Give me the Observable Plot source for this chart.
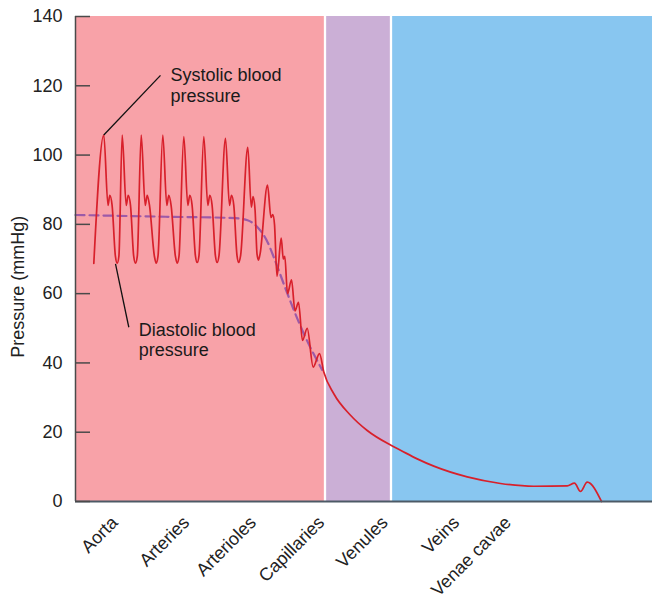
<!DOCTYPE html>
<html><head><meta charset="utf-8">
<script src="https://cdn.jsdelivr.net/npm/d3@7"></script>
<script src="https://cdn.jsdelivr.net/npm/@observablehq/plot@0.6"></script>
<style>
html,body{margin:0;padding:0;background:#fff;}
#chart svg{display:block;}
</style></head><body><div id="chart"></div>
<script>
// Vessel regions along the circulation (arbitrary distance units)
const regionNames = ["Arterial", "Capillary", "Venous"];
const regionStart = [0, 249.5, 315.5];
const regionEnd = [249.5, 315.5, 577];
const regionColors = ["#f8a2a8", "#cbafd6", "#88c6f0"];

// Category tick labels on the x axis
const vesselLabels = ["Aorta", "Arteries", "Arterioles", "Capillaries", "Venules", "Veins", "Venae cavae"];
const vesselPos = [39.3, 110.9, 177.6, 245.9, 309.3, 380.9, 432.6];

// Y ticks
const yTicks = [0, 20, 40, 60, 80, 100, 120, 140];

// Blood pressure trace (distance, mmHg)
const pressureX = [18.3,
  28.3, 32.5, 34.3, 36.6, 39.9, 41.7, 43.4,
  46.7, 50.7, 52.7, 55.0, 58.2, 60.0, 61.8,
  65.7, 69.7, 71.7, 74.0, 78.9, 80.7, 82.5,
  87.3, 91.3, 93.3, 95.6, 99.9, 101.7, 103.5,
  108.3, 112.3, 114.3, 116.6, 119.9, 121.7, 123.5,
  128.3, 132.3, 134.3, 136.6, 139.9, 141.7, 143.5,
  150.0, 154.0, 156.0, 158.3, 161.5, 163.3, 165.1,
  172.3, 175.8, 177.6, 179.6, 181.5, 183.0, 184.6,
  192.0, 195.5, 197.3, 199.0, 201.5,
  205.7, 207.8, 209.3, 212.0,
  216.0, 219.5,
  223.0, 227.0,
  231.7, 237.7,
  244.0, 248.3,
  258.3, 275.0, 291.7, 315.0, 325.0, 341.7, 358.3, 391.7, 425.0, 458.3, 491.7,
  499.0, 505.0, 511.7, 526.0];
const pressureY = [68.7,
  105.8, 85.5, 88.4, 85.5, 70.8, 68.8, 70.8,
  105.8, 85.5, 88.4, 85.5, 70.8, 68.8, 70.8,
  105.8, 85.5, 88.4, 85.5, 70.8, 68.8, 70.8,
  105.8, 85.5, 88.4, 85.5, 70.8, 68.8, 70.8,
  105.3, 85.5, 88.4, 85.5, 71.0, 69.0, 71.0,
  105.3, 85.5, 88.4, 85.5, 71.0, 69.0, 71.0,
  104.8, 85.5, 88.4, 85.5, 71.0, 69.0, 71.0,
  102.2, 85.0, 88.0, 84.0, 71.5, 69.7, 71.5,
  91.3, 82.0, 82.8, 80.0, 65.0,
  76.0, 70.0, 70.8, 60.0,
  64.0, 55.0,
  57.5, 46.5,
  50.0, 38.8,
  42.7, 37.4,
  31.1, 24.9, 20.5, 16.3, 14.8, 12.3, 10.2, 7.1, 5.2, 4.4, 4.5,
  5.3, 2.9, 5.6, 0.0];

// Mean arterial pressure (dashed)
const meanX = [0, 90, 160, 172, 182, 191, 199, 208, 218, 229, 246.7];
const meanY = [82.7, 82.2, 81.8, 81.2, 79.2, 75.5, 70.0, 63.0, 55.5, 48.0, 38.0];

// Annotations
const noteText = ["Systolic blood\npressure", "Diastolic blood\npressure"];
const noteX = [95, 63.3];
const noteY = [125.4, 52.0];
const leaderX1 = [28.3, 40.0];
const leaderY1 = [105.8, 68.6];
const leaderX2 = [85.0, 53.3];
const leaderY2 = [123.0, 50.3];

const regions = regionNames.map((n, i) => ({name: n, x1: regionStart[i], x2: regionEnd[i], color: regionColors[i]}));
const pressure = pressureX.map((x, i) => ({x, y: pressureY[i]}));
const mean = meanX.map((x, i) => ({x, y: meanY[i]}));
const notes = noteText.map((t, i) => ({t, x: noteX[i], y: noteY[i]}));
const leaders = leaderX1.map((x1, i) => ({x1, y1: leaderY1[i], x2: leaderX2[i], y2: leaderY2[i]}));
const vessels = vesselLabels.map((name, i) => ({name, x: vesselPos[i]}));

const font = "'Liberation Sans', Arial, Helvetica, sans-serif";

const chart = Plot.plot({
  width: 659,
  height: 600,
  marginLeft: 75,
  marginRight: 7,
  marginTop: 16,
  marginBottom: 99,
  x: {domain: [0, 577], axis: null},
  y: {domain: [0, 140], axis: null},
  style: {fontFamily: font, fontSize: "18px", color: "#222", background: "white", overflow: "visible"},
  marks: [
    Plot.rect(regions, {x1: "x1", x2: "x2", y1: 0, y2: 140, fill: "color"}),
    Plot.ruleX(regionStart.slice(1), {y1: 0, y2: 140, stroke: "white", strokeWidth: 2.3}),
    Plot.line(mean, {x: "x", y: "y", stroke: "#9c5aa8", strokeWidth: 2.2, strokeDasharray: "9,5", curve: "monotone-x"}),
    Plot.line(pressure, {x: "x", y: "y", stroke: "#d8202b", strokeWidth: 1.7, curve: "monotone-x"}),
    Plot.link(leaders, {x1: "x1", y1: "y1", x2: "x2", y2: "y2", stroke: "#111", strokeWidth: 1.3}),
    Plot.text(notes, {x: "x", y: "y", text: "t", textAnchor: "start", lineAnchor: "top", lineHeight: 1.12, fill: "#1a1a1a", fontSize: 18}),
    Plot.ruleX([0], {stroke: "#4a4a4a", strokeWidth: 1.5}),
    Plot.ruleY([0], {stroke: "#4d5a66", strokeWidth: 2}),
    // inward y ticks and labels
    Plot.ruleY(yTicks, {y: d => d, x1: 0, x2: 15, stroke: "#4a4a4a", strokeWidth: 1.5}),
    Plot.text(yTicks, {y: d => d, frameAnchor: "left", dx: -13, textAnchor: "end", text: d => String(d), fontSize: 18, fill: "#222"}),
    // rotated category labels
    Plot.text(vessels, {x: "x", y: 0, text: "name", rotate: -45, textAnchor: "end", lineAnchor: "middle", dy: 18, fontSize: 18, fill: "#222"}),
    Plot.text(["Pressure (mmHg)"], {frameAnchor: "left", y: 62, dx: -57, rotate: -90, textAnchor: "middle", fontSize: 18, fill: "#222"})
  ]
});
document.getElementById("chart").appendChild(chart);
</script>
</body></html>
